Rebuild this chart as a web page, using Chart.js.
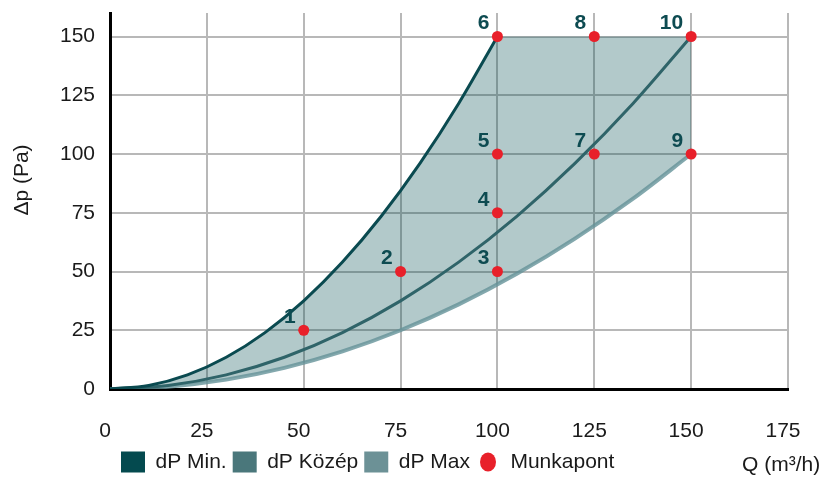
<!DOCTYPE html>
<html>
<head>
<meta charset="utf-8">
<script src="https://cdn.jsdelivr.net/npm/chart.js@4.4.1/dist/chart.umd.min.js"></script>
<style>
  html, body { margin: 0; padding: 0; background: #fff; }
  #wrap { width: 822px; height: 478px; }
</style>
</head>
<body>
<div id="wrap"><canvas id="flowChart"></canvas></div>
<script>
// axis ticks
const xTicks = [0, 25, 50, 75, 100, 125, 150, 175];
const yTicks = [0, 25, 50, 75, 100, 125, 150];

// dP Min. curve (Q in m3/h, dp in Pa)
const minQ = [0, 10, 20, 30, 40, 50, 60, 70, 80, 90, 100];
const minDp = [0, 1.5, 6, 13.5, 24, 37.5, 54, 73.5, 96, 121.5, 150];

// dP Közép curve
const midQ = [0, 15, 30, 45, 60, 75, 90, 105, 120, 135, 150];
const midDp = [0, 1.5, 6, 13.5, 24, 37.5, 54, 73.5, 96, 121.5, 150];

// dP Max curve
const maxQ = [0, 15, 30, 45, 60, 75, 90, 105, 120, 135, 150];
const maxDp = [0, 1, 4, 9, 16, 25, 36, 49, 64, 81, 100];

// flat top of the working range after the dP Min. curve
const capQ = [125, 150];
const capDp = [150, 150];

// working points
const pointQ = [50, 75, 100, 100, 100, 100, 125, 125, 150, 150];
const pointDp = [25, 50, 50, 75, 100, 150, 100, 150, 100, 150];
const pointLabels = ['1', '2', '3', '4', '5', '6', '7', '8', '9', '10'];

const legendLabels = ['dP Min.', 'dP Közép', 'dP Max', 'Munkapont'];
const legendColors = ['#044a4f', '#4a777b', '#6c9196', '#e8202a'];

const FONT = "'Liberation Sans', Arial, sans-serif";
const TEXT = '#1a1a1a';

const toXY = (xs, ys) => xs.map((x, i) => ({ x: x, y: ys[i] }));

// red ellipse used as the legend marker for the working points
const dot = document.createElement('canvas');
dot.width = 24;
dot.height = 22;
const dctx = dot.getContext('2d');
dctx.fillStyle = legendColors[3];
dctx.beginPath();
dctx.ellipse(12, 11, 8, 9.5, 0, 0, Math.PI * 2);
dctx.fill();

const extraText = {
    id: 'extraText',
    afterLayout: (chart) => {
        // nudge legend row to the right like the original
        chart.legend.left += 5;
        chart.legend.right += 5;
    },
    afterDatasetsDraw: (chart) => {
        const { ctx, scales } = chart;
        ctx.save();
        ctx.font = 'bold 21px ' + FONT;
        ctx.fillStyle = '#0d4b51';
        ctx.textAlign = 'right';
        ctx.textBaseline = 'middle';
        pointLabels.forEach((lbl, i) => {
            const px = scales.x.getPixelForValue(pointQ[i]);
            const py = scales.y.getPixelForValue(pointDp[i]);
            ctx.fillText(lbl, px - 8, py - 13);
        });
        ctx.restore();
    },
    afterDraw: (chart) => {
        const { ctx } = chart;
        ctx.save();
        ctx.fillStyle = TEXT;
        ctx.font = '21px ' + FONT;
        ctx.textBaseline = 'middle';
        ctx.textAlign = 'left';
        ctx.fillText('Q (m³/h)', 742, 465);
        ctx.translate(22, 180);
        ctx.rotate(-Math.PI / 2);
        ctx.textAlign = 'center';
        ctx.fillText('Δp (Pa)', 0, 0);
        ctx.restore();
    }
};

const ctx = document.getElementById('flowChart');

new Chart(ctx, {
    type: 'line',
    data: {
        datasets: [
            {
                label: 'Munkapont',
                data: toXY(pointQ, pointDp),
                showLine: false,
                pointRadius: 5.5,
                pointBackgroundColor: '#e8202a',
                pointBorderWidth: 0,
                order: 0,
            },
            {
                label: 'dP Min.',
                data: toXY(minQ, minDp),
                borderColor: '#0a4a50',
                borderWidth: 3,
                pointRadius: 0,
                cubicInterpolationMode: 'monotone',
                fill: false,
                order: 1,
            },
            {
                label: 'dP Közép',
                data: toXY(midQ, midDp),
                borderColor: '#2f6469',
                borderWidth: 3,
                pointRadius: 0,
                cubicInterpolationMode: 'monotone',
                fill: false,
                order: 2,
            },
            {
                label: 'dP Max',
                data: toXY(maxQ, maxDp),
                borderColor: 'rgba(100,146,152,0.8)',
                borderWidth: 4,
                pointRadius: 0,
                cubicInterpolationMode: 'monotone',
                fill: false,
                order: 3,
            },
            {
                label: 'area',
                data: toXY(minQ.concat(capQ), minDp.concat(capDp)),
                borderWidth: 0,
                borderColor: 'rgba(0,0,0,0)',
                backgroundColor: 'rgba(0,75,80,0.3)',
                pointRadius: 0,
                tension: 0,
                fill: 3,
                order: 4,
            },
        ]
    },
    options: {
        responsive: true,
        maintainAspectRatio: false,
        animation: false,
        layout: {
            padding: { top: 13, right: 34, left: 0, bottom: -4.5 }
        },
        scales: {
            x: {
                type: 'linear',
                min: 0,
                max: 175,
                afterBuildTicks: (scale) => { scale.ticks = xTicks.map(v => ({ value: v })); },
                afterFit: (scale) => {
                    scale.height = 56.5;
                    scale.paddingLeft = 0;
                    scale.paddingRight = 0;
                },
                grid: { color: '#b8b8b8', lineWidth: 2, drawTicks: false },
                border: { color: '#000', width: 3 },
                ticks: { color: TEXT, font: { family: FONT, size: 21 }, padding: 30, labelOffset: -5, maxRotation: 0 },
            },
            y: {
                min: 0,
                max: 160,
                afterBuildTicks: (scale) => { scale.ticks = yTicks.map(v => ({ value: v })); },
                afterFit: (scale) => {
                    scale.width = 110;
                    scale.paddingTop = 0;
                    scale.paddingBottom = 0;
                },
                grid: { color: '#b8b8b8', lineWidth: 2, drawTicks: false },
                border: { color: '#000', width: 3 },
                ticks: { color: TEXT, font: { family: FONT, size: 21 }, padding: 15 },
            }
        },
        plugins: {
            tooltip: { enabled: false },
            legend: {
                position: 'bottom',
                align: 'start',
                fullSize: false,
                labels: {
                    usePointStyle: true,
                    pointStyleWidth: 24,
                    boxHeight: 22,
                    padding: 6,
                    font: { family: FONT, size: 21 },
                    color: TEXT,
                    generateLabels: () => legendLabels.map((text, i) => ({
                        text: text,
                        fillStyle: legendColors[i],
                        strokeStyle: legendColors[i],
                        fontColor: TEXT,
                        lineWidth: 0,
                        hidden: false,
                        pointStyle: i === 3 ? dot : 'rect',
                        datasetIndex: i,
                    })),
                },
            },
        },
    },
    plugins: [extraText]
});
</script>
</body>
</html>
